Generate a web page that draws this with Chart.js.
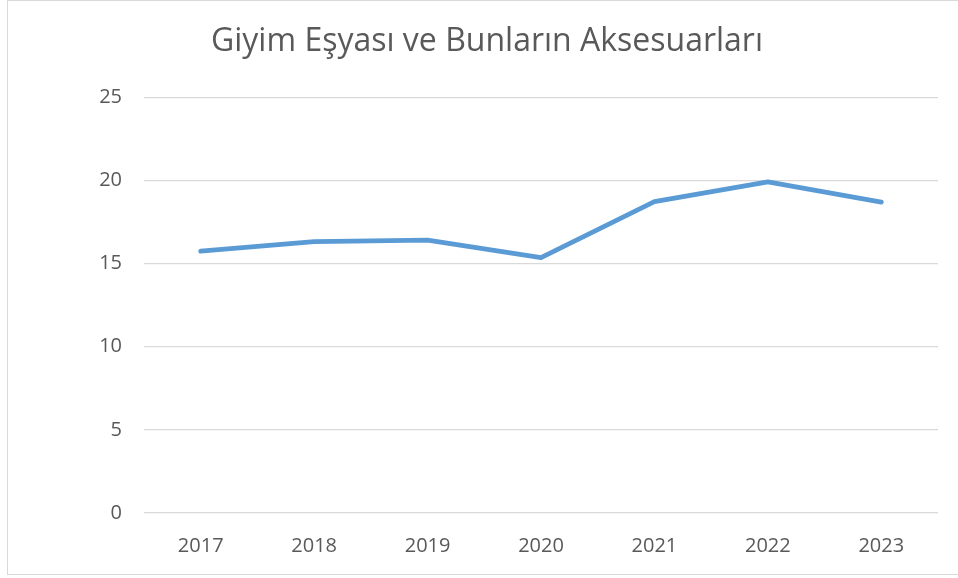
<!DOCTYPE html>
<html>
<head>
<meta charset="utf-8">
<script src="https://cdn.jsdelivr.net/npm/chart.js@4"></script>
<style>
  html, body { margin: 0; padding: 0; background: #ffffff; }
  #kutu { position: relative; width: 958px; height: 578px; }
  #cerceve { position: absolute; left: 7px; top: 0; width: 960px; height: 575px;
             border: 1px solid #d9d9d9; box-sizing: border-box; }
  #grafik { position: absolute; left: 0; top: 0; }
</style>
</head>
<body>
<div id="kutu">
  <div id="cerceve"></div>
  <canvas id="grafik" width="958" height="578"></canvas>
</div>
<script>
const yillar = ['2017', '2018', '2019', '2020', '2021', '2022', '2023'];
const degerler = [15.75, 16.33, 16.41, 15.36, 18.73, 19.92, 18.70];
const baslik = 'Giyim Eşyası ve Bunların Aksesuarları';

function constroiGrafico() {
  const data = {
    labels: yillar,
    datasets: [{
      data: degerler,
      borderColor: '#5b9bd5',
      borderWidth: 4.8,
      borderCapStyle: 'round',
      borderJoinStyle: 'round',
      pointRadius: 0,
      tension: 0,
      fill: false
    }]
  };

  const config = {
    type: 'line',
    data: data,
    options: {
      responsive: false,
      animation: false,
      layout: { padding: { left: 36, right: 20, top: 0, bottom: 0 } },
      plugins: {
        legend: { display: false },
        tooltip: { enabled: false },
        title: {
          display: true,
          text: baslik,
          color: '#595959',
          font: { family: 'Open Sans', size: 32, weight: 'normal' },
          padding: { top: 23, bottom: 36 }
        }
      },
      scales: {
        x: {
          offset: true,
          grid: { display: false, drawTicks: false },
          border: { display: false },
          ticks: {
            color: '#595959',
            font: { family: 'Open Sans', size: 20 },
            padding: 21
          },
          afterFit: (ax) => { ax.height = 65; }
        },
        y: {
          min: 0,
          max: 25,
          ticks: {
            stepSize: 5,
            color: '#595959',
            font: { family: 'Open Sans', size: 20 },
            padding: 22
          },
          grid: { color: '#d9d9d9', lineWidth: 1.3, drawTicks: false },
          border: { display: false },
          afterFit: (ax) => { ax.width = 108; }
        }
      }
    }
  };

  new Chart(document.getElementById('grafik'), config);
}

constroiGrafico();
</script>
</body>
</html>
